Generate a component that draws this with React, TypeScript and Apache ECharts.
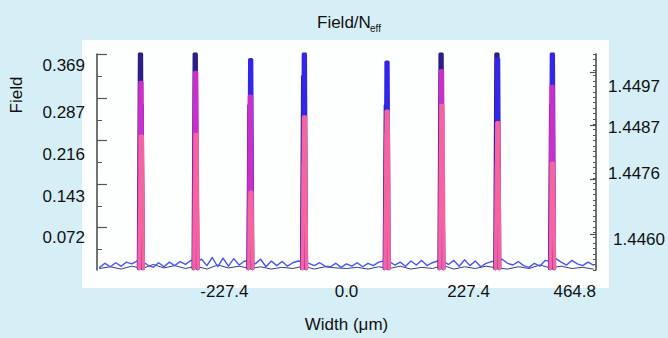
import React, { useEffect, useRef } from "react";
import * as echarts from "echarts";

// Peak centres (Width, µm) and peak heights (Field) for each mode
const peakX = [-383, -281, -179, -79, 75, 177, 281, 383];
const navyPeaks = [0.389, 0.389, 0.3, 0.35, 0.3, 0.389, 0.389, 0.3];
const bluePeaks = [0.3, 0.2, 0.379, 0.389, 0.375, 0.2, 0.38, 0.389];
const magentaPeaks = [0.34, 0.357, 0.316, 0.2, 0.25, 0.36, 0.2, 0.333];
const pinkPeaks = [0.247, 0.25, 0.15, 0.28, 0.29, 0.3, 0.27, 0.2];
const peakBase = 0.018;

// Baseline ripple, blue mode: x from -460 to 460 every 10 µm
const blueNoise = [
  0.02, 0.027, 0.021, 0.028, 0.022, 0.029, 0.026, 0.031,
  0.03,
  0.024, 0.02, 0.028, 0.021, 0.029, 0.023, 0.03, 0.025, 0.032,
  0.03,
  0.034, 0.023, 0.037, 0.021, 0.036, 0.022, 0.035, 0.024, 0.031,
  0.03,
  0.026, 0.034, 0.021, 0.031, 0.023, 0.03, 0.022, 0.028, 0.031,
  0.03,
  0.027, 0.023, 0.028, 0.022, 0.021, 0.027, 0.02, 0.026, 0.022, 0.028, 0.021, 0.027, 0.023, 0.029, 0.031,
  0.03,
  0.024, 0.029, 0.022, 0.031, 0.024, 0.032, 0.023, 0.028, 0.031,
  0.03,
  0.025, 0.032, 0.022, 0.033, 0.023, 0.031, 0.021, 0.027, 0.03,
  0.03,
  0.034, 0.027, 0.024, 0.03, 0.023, 0.02, 0.027, 0.022, 0.032,
  0.03,
  0.035, 0.029, 0.024, 0.032, 0.026, 0.023, 0.029, 0.024,
];
// Baseline ripple, navy mode: x from -460 to 460 every 20 µm
const navyNoise = [
  0.018, 0.021, 0.017, 0.022, 0.018, 0.025, 0.019, 0.023, 0.018, 0.022,
  0.017, 0.024, 0.019, 0.022, 0.018, 0.021, 0.017, 0.02, 0.018, 0.022,
  0.017, 0.021, 0.019, 0.018, 0.02, 0.017, 0.021, 0.018, 0.022, 0.017,
  0.02, 0.018, 0.023, 0.017, 0.021, 0.018, 0.022, 0.019, 0.017, 0.021,
  0.018, 0.024, 0.019, 0.022, 0.018, 0.02, 0.017,
];

const xMin = -464.8;
const xMax = 464.8;
const xTickLabels = [-227.4, 0.0, 227.4, 464.8];
const leftTickLabels = [0.072, 0.143, 0.216, 0.287, 0.369];
const leftMajorTicks = [0.389, 0.312, 0.239, 0.164, 0.089];
const leftMinorTicks = [0.35, 0.275, 0.2015, 0.1265, 0.052];
const yMin = 0.0154;
const yMax = 0.389;
const rightTickLabels = [1.4497, 1.4487, 1.4476, 1.446];
const rightMajorTicks = [1.450035, 1.448769, 1.447457, 1.44612];
const rMin = 1.44526;
const rMax = 1.450488;

function peakSeriesData(heights: number[], dx: number) {
  const out: any[] = [];
  peakX.forEach((p, i) => {
    out.push([p + dx - 3.8, peakBase]);
    out.push([p + dx - 1.8, heights[i]]);
    out.push([p + dx + 1.8, heights[i]]);
    out.push([p + dx + 3.8, peakBase]);
    out.push(null);
  });
  return out;
}

export default function App() {
  const ref = useRef<HTMLDivElement>(null);
  useEffect(() => {
    if (!ref.current) return;
    const chart = echarts.init(ref.current, undefined, { renderer: "svg" });
    const font = "Liberation Sans, Arial, sans-serif";
    const lineSeries = (name: string, data: any[], color: string, width: number, z: number) => ({
      name,
      type: "line",
      data,
      showSymbol: false,
      symbol: "none",
      connectNulls: false,
      lineStyle: { color, width, cap: "round", join: "round" },
      z,
      silent: true,
    });
    chart.setOption({
      animation: false,
      backgroundColor: "#d6eef5",
      title: {
        text: "Field/N",
        left: 312,
        top: 9,
        textStyle: { fontSize: 17, fontWeight: "normal", color: "#111", fontFamily: font },
      },
      graphic: [
        {
          type: "rect",
          z: -10,
          shape: { x: 82, y: 40, width: 527, height: 248 },
          style: { fill: "#fdfefe" },
          silent: true,
        },
        {
          type: "text",
          x: 370,
          y: 23,
          style: { text: "eff", fontSize: 10, fill: "#111", fontFamily: font },
        },
        {
          type: "text",
          x: 16,
          y: 95,
          rotation: Math.PI / 2,
          style: {
            text: "Field",
            fontSize: 17,
            fill: "#111",
            fontFamily: font,
            align: "center",
            verticalAlign: "middle",
          },
        },
      ],
      grid: { left: 97, right: 70, top: 54, bottom: 65 },
      xAxis: {
        type: "value",
        min: xMin,
        max: xMax,
        name: "Width (\u03bcm)",
        nameLocation: "middle",
        nameGap: 46,
        nameTextStyle: { fontSize: 17, color: "#111", fontFamily: font },
        axisLine: { show: false, onZero: false },
        axisTick: { show: false },
        splitLine: { show: false },
        axisLabel: {
          customValues: xTickLabels,
          formatter: (v: number) => v.toFixed(1),
          fontSize: 17,
          color: "#111",
          fontFamily: font,
          margin: 13,
          alignMaxLabel: "right",
        },
      },
      yAxis: [
        {
          type: "value",
          min: yMin,
          max: yMax,
          position: "left",
          axisLine: { show: true, onZero: false, lineStyle: { color: "#444", width: 1.5 } },
          axisTick: { show: true, inside: true, length: 10, customValues: leftMajorTicks, lineStyle: { color: "#555", width: 1.2 } },
          splitLine: { show: false },
          axisLabel: {
            customValues: leftTickLabels,
            formatter: (v: number) => v.toFixed(3),
            fontSize: 17,
            color: "#111",
            fontFamily: font,
            margin: 12,
          },
        },
        {
          type: "value",
          min: rMin,
          max: rMax,
          position: "right",
          axisLine: { show: true, onZero: false, lineStyle: { color: "#444", width: 1.5 } },
          axisTick: { show: true, inside: true, length: 6, customValues: rightMajorTicks, lineStyle: { color: "#555", width: 1.2 } },
          splitLine: { show: false },
          axisLabel: {
            customValues: rightTickLabels,
            formatter: (v: number) => (Math.abs(v - 1.446) < 1e-7 ? "{p|" + v.toFixed(4) + "}" : v.toFixed(4)),
            fontSize: 17,
            color: "#111",
            fontFamily: font,
            margin: 12,
            rich: { p: { padding: [0, 0, 0, 5], fontSize: 17, color: "#111", fontFamily: font } },
          },
        },
        {
          type: "value",
          min: yMin,
          max: yMax,
          position: "left",
          axisLine: { show: false, onZero: false },
          axisTick: { show: true, inside: true, length: 5, customValues: leftMinorTicks, lineStyle: { color: "#555", width: 1 } },
          axisLabel: { show: false },
          splitLine: { show: false },
        },
        {
          type: "value",
          min: rMin,
          max: rMax,
          interval: (rMax - rMin) / 40,
          position: "right",
          axisLine: { show: false, onZero: false },
          axisTick: { show: true, inside: true, length: 3, lineStyle: { color: "#555", width: 1 } },
          axisLabel: { show: false },
          splitLine: { show: false },
        },
      ],
      series: [
        lineSeries("navy ripple", navyNoise.map((v, i) => [-460 + i * 20, v]), "#3a3a8c", 1, 2),
        lineSeries("blue ripple", blueNoise.map((v, i) => [-460 + i * 10, v]), "#4656f2", 1.4, 3),
        lineSeries("navy", peakSeriesData(navyPeaks, -0.8), "#2a1f86", 3.4, 4),
        lineSeries("blue", peakSeriesData(bluePeaks, 0.5), "#3326e6", 3.4, 5),
        lineSeries("magenta", peakSeriesData(magentaPeaks, 0), "#cc2fc8", 3.4, 6),
        lineSeries("pink", peakSeriesData(pinkPeaks, 0.8), "#f5649e", 3.4, 7),
      ],
    });
    return () => chart.dispose();
  }, []);
  return <div ref={ref} style={{ position: "fixed", left: 0, top: 0, width: 668, height: 338 }} />;
}
